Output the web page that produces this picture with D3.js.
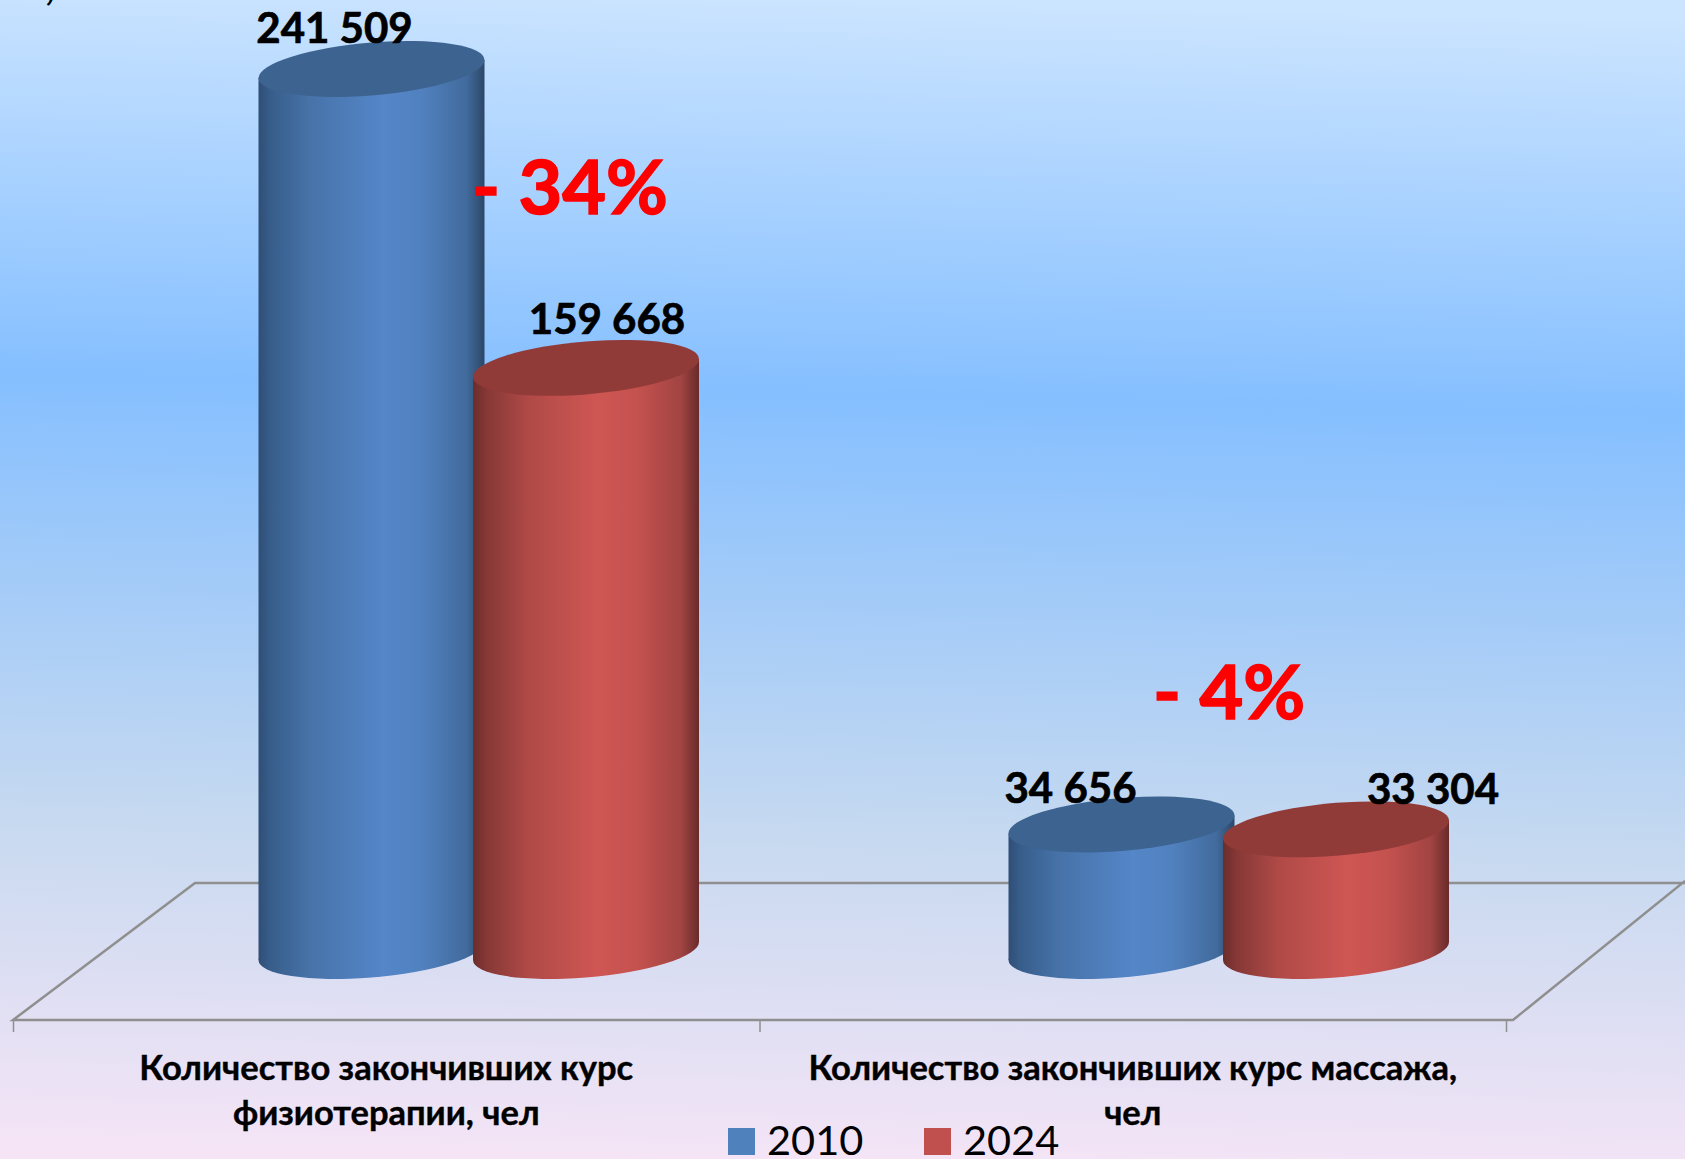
<!DOCTYPE html>
<html>
<head>
<meta charset="utf-8">
<script src="https://cdn.jsdelivr.net/npm/d3@7"></script>
<style>
    html, body { margin: 0; padding: 0; overflow: hidden; }
    svg { display: block; }
    text { font-family: Lato, "Open Sans", sans-serif; }
</style>
</head>
<body>
<div id="chart"></div>
<script>
const categories = ["Количество закончивших курс физиотерапии, чел", "Количество закончивших курс массажа, чел"];
const categoryLines = [
    ["Количество закончивших курс", "физиотерапии, чел"],
    ["Количество закончивших курс массажа,", "чел"]
];
const years = ["2010", "2024"];
const values2010 = [241509, 34656];
const values2024 = [159668, 33304];
const valueLabels2010 = ["241 509", "34 656"];
const valueLabels2024 = ["159 668", "33 304"];
const changeLabels = ["- 34%", "- 4%"];

const width = 1685, height = 1159;
const baseY = 951, maxY = 69;      // centre of the bottom / tallest top ellipse
const floorFront = 1020, floorBack = 883;
const depth = 90.75;               // bars stand in the middle of the 3d floor
const rx = 113, ry = 26.5, tilt = -9 / 113;

const svg = d3.select("#chart").append("svg")
    .attr("width", width)
    .attr("height", height);
const defs = svg.append("defs");

// Background
const bg = defs.append("linearGradient")
    .attr("id", "bg")
    .attr("gradientUnits", "userSpaceOnUse")
    .attr("x1", 856).attr("y1", 0).attr("x2", 828).attr("y2", height);
[[0, "#cbe4ff"], [0.34, "#85bfff"], [0.72, "#c6d9f0"], [1, "#f4e4f6"]].forEach(s => {
    bg.append("stop").attr("offset", s[0]).attr("stop-color", s[1]);
});
svg.append("rect").attr("width", width).attr("height", height).attr("fill", "url(#bg)");

// What is left of the cropped title in the corner
svg.append("text")
    .attr("x", 45).attr("y", 0)
    .attr("font-size", 41).attr("font-weight", 700)
    .text(",");

// Scales
const x0 = d3.scaleBand().domain(categories).range([13, 1513]);
const x1 = d3.scaleBand().domain(years).range([-214.5, 214.5]);
const y = d3.scaleLinear().domain([0, d3.max(values2010)]).range([baseY, maxY]);
const edges = d3.scaleLinear().domain([0, categories.length]).range([13, 1506]);

// Centre of a cylinder on the floor
function barCenter(category, year) {
    return x0(category) + x0.bandwidth() / 2 + depth + x1(year) + x1.bandwidth() / 2;
}

// Floor
const floor = svg.append("g").attr("fill", "none").attr("stroke", "#8f8f8f").attr("stroke-width", 2.5);
floor.append("path").attr("d", d3.line()([
    [1685, floorBack], [13 + 182, floorBack], [13, floorFront], [1513, floorFront], [1685, floorBack - 2]
]));

const axis = svg.append("g")
    .attr("transform", `translate(0,${floorFront})`)
    .call(d3.axisBottom(edges).ticks(categories.length).tickSize(12).tickFormat(""));
axis.select(".domain").remove();
axis.selectAll("line").attr("stroke", "#8f8f8f").attr("stroke-width", 1.5);

// Cylinder gradients
function cylGradient(id, stops) {
    const g = defs.append("linearGradient").attr("id", id)
        .attr("x1", "0").attr("y1", "0").attr("x2", "1").attr("y2", "0");
    stops.forEach(s => g.append("stop").attr("offset", s[0]).attr("stop-color", s[1]));
}
cylGradient("side2010", [[0, "#2f4e75"], [0.05, "#375d8a"], [0.22, "#4672a8"], [0.55, "#5486c8"], [0.72, "#5181bf"], [0.92, "#426b9d"], [1, "#2c4767"]]);
cylGradient("side2024", [[0, "#6b2d2b"], [0.06, "#863836"], [0.25, "#b04a47"], [0.55, "#cf5653"], [0.72, "#c5524f"], [0.92, "#a14442"], [1, "#682b2a"]]);
const topColor = { "2010": "#3d6491", "2024": "#913b39" };
const legendColor = { "2010": "#4f81bd", "2024": "#c0504d" };

const series = [
    { year: "2010", values: values2010 },
    { year: "2024", values: values2024 }
];

function drawCylinder(cx, value, year) {
    const g = svg.append("g")
        .attr("transform", `translate(${cx},0) matrix(1,${tilt},0,1,0,0)`);
    const yTop = y(value);
    g.append("ellipse")
        .attr("cx", 0).attr("cy", y(0))
        .attr("rx", rx).attr("ry", ry)
        .attr("fill", `url(#side${year})`);
    g.append("rect")
        .attr("x", -rx).attr("y", yTop)
        .attr("width", rx * 2).attr("height", y(0) - yTop)
        .attr("fill", `url(#side${year})`);
    g.append("ellipse")
        .attr("cx", 0).attr("cy", yTop)
        .attr("rx", rx).attr("ry", ry)
        .attr("fill", topColor[year]);
}

categories.forEach((c, i) => {
    series.forEach(s => drawCylinder(barCenter(c, s.year), s.values[i], s.year));
});

// Change labels, the first one sits partly over the blue cylinder
const changePos = [[570, 214], [1229, 719]];
changeLabels.forEach((t, i) => {
    svg.append("text")
        .attr("x", changePos[i][0])
        .attr("y", changePos[i][1])
        .attr("text-anchor", "middle")
        .attr("font-size", 75.5)
        .attr("font-weight", 700)
        .attr("fill", "#ff0000")
        .attr("stroke", "#ff0000")
        .attr("stroke-width", 1.5)
        .text(t);
});

// Value labels, placed by hand in the original
const labelOffsets = {
    "2010": [[-37, -26], [-51, -21]],
    "2024": [[21, -34], [97, -25]]
};
const labelTexts = { "2010": valueLabels2010, "2024": valueLabels2024 };
categories.forEach((c, i) => {
    series.forEach(s => {
        const off = labelOffsets[s.year][i];
        svg.append("text")
            .attr("x", barCenter(c, s.year) + off[0])
            .attr("y", y(s.values[i]) + off[1])
            .attr("text-anchor", "middle")
            .attr("font-size", 42)
            .attr("font-weight", 700)
            .attr("fill", "#000")
            .attr("stroke", "#000")
            .attr("stroke-width", 0.7)
            .text(labelTexts[s.year][i]);
    });
});

// Category labels
categories.forEach((c, i) => {
    categoryLines[i].forEach((line, j) => {
        svg.append("text")
            .attr("x", edges(i + 0.5))
            .attr("y", 1080 + j * 45)
            .attr("text-anchor", "middle")
            .attr("font-size", 34.5)
            .attr("font-weight", 700)
            .attr("fill", "#000")
            .attr("stroke", "#000")
            .attr("stroke-width", 0.4)
            .text(line);
    });
});

// Legend
const legendX = d3.scaleOrdinal().domain(years).range([728, 924]);
years.forEach(yr => {
    svg.append("rect")
        .attr("x", legendX(yr)).attr("y", 1128)
        .attr("width", 27).attr("height", 27)
        .attr("fill", legendColor[yr]);
    svg.append("text")
        .attr("x", legendX(yr) + 39).attr("y", 1155)
        .attr("font-size", 41.5)
        .attr("fill", "#000")
        .text(yr);
});
</script>
</body>
</html>
